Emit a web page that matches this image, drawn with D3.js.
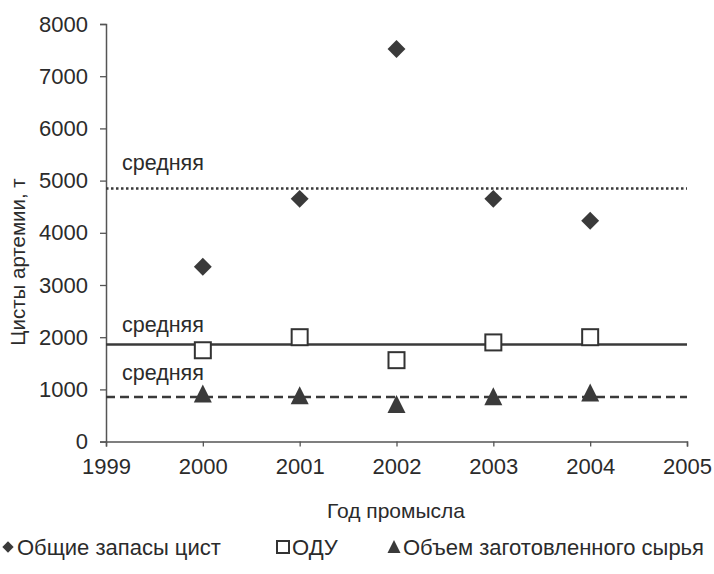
<!DOCTYPE html>
<html><head><meta charset="utf-8">
<script src="https://cdn.jsdelivr.net/npm/d3@7"></script>
<style>body{margin:0;background:#fff}svg{display:block}text{font-family:"Liberation Sans",Arial,sans-serif;fill:#2b2b2b}</style>
</head><body><svg id="c" width="714" height="574"></svg>
<script>
const years = [2000, 2001, 2002, 2003, 2004];
const stocks = [3350, 4650, 7520, 4650, 4230];   // Общие запасы цист
const tac = [1750, 2000, 1560, 1900, 2000];       // ОДУ
const harvest = [900, 870, 700, 850, 920];        // Объем заготовленного сырья
const meanValues = [4850, 1860, 855];
const meanLabel = "средняя";
const xTicks = [1999, 2000, 2001, 2002, 2003, 2004, 2005];
const yTicks = [0, 1000, 2000, 3000, 4000, 5000, 6000, 7000, 8000];
const xTitle = "Год промысла";
const yTitle = "Цисты артемии, т";
const legendNames = ["Общие запасы цист", "ОДУ", "Объем заготовленного сырья"];

const svg = d3.select("#c");
const x = d3.scaleLinear().domain([1999, 2005]).range([106, 687]);
const y = d3.scaleLinear().domain([0, 8000]).range([441.6, 24]);
const fs = 22;

// axes
const yAxis = svg.append("g").attr("transform", "translate(106,0)")
  .call(d3.axisLeft(y).tickValues(yTicks).tickSize(6).tickPadding(12).tickFormat(d3.format("d")));
yAxis.select(".domain").attr("stroke", "#555").attr("stroke-width", 1.5);
yAxis.selectAll(".tick line").attr("stroke", "#555").attr("stroke-width", 1.3);
yAxis.selectAll("text").style("font-size", fs + "px").attr("fill", "#2b2b2b");

const xAxis = svg.append("g").attr("transform", "translate(0,441.6)")
  .call(d3.axisBottom(x).tickValues(xTicks).tickSize(5).tickSizeOuter(5).tickPadding(12).tickFormat(d3.format("d")));
xAxis.select(".domain").attr("stroke", "#555").attr("stroke-width", 1.5);
xAxis.selectAll(".tick line").attr("stroke", "#555").attr("stroke-width", 1.3);
xAxis.selectAll("text").style("font-size", fs + "px").attr("fill", "#2b2b2b");

// mean lines
const dashes = ["2.5,2.5", null, "9,5"];
const labelOffsets = [18, 13, 17];
meanValues.forEach((m, i) => {
  svg.append("line").attr("x1", x(1999)).attr("x2", x(2005))
    .attr("y1", y(m)).attr("y2", y(m))
    .attr("stroke", "#3a3a3a").attr("stroke-width", 2.5)
    .attr("stroke-dasharray", dashes[i]);
  svg.append("text").attr("x", 122).attr("y", y(m) - labelOffsets[i])
    .style("font-size", "21.5px").text(meanLabel);
});

// markers
svg.append("g").selectAll("path").data(years).join("path")
  .attr("d", d3.symbol().type(d3.symbolSquare).size(160)())
  .attr("transform", (d, i) => `translate(${x(d)},${y(stocks[i])}) rotate(45)`)
  .attr("fill", "#3a3a3a");

svg.append("g").selectAll("rect").data(years).join("rect")
  .attr("x", d => x(d) - 8).attr("y", (d, i) => y(tac[i]) - 8)
  .attr("width", 16).attr("height", 16)
  .attr("fill", "#fff").attr("stroke", "#333").attr("stroke-width", 2);

svg.append("g").selectAll("path").data(years).join("path")
  .attr("transform", (d, i) => `translate(${x(d)},${y(harvest[i])})`)
  .attr("d", "M0,-10L9,8L-9,8Z")
  .attr("fill", "#3a3a3a");

// titles
svg.append("text").attr("x", 396).attr("y", 518).attr("text-anchor", "middle")
  .style("font-size", "21px").text(xTitle);
svg.append("text").attr("transform", "translate(25,262) rotate(-90)").attr("text-anchor", "middle")
  .style("font-size", "20.5px").text(yTitle);

// legend
const lg = svg.append("g").attr("transform", "translate(0,547)");
const lx = [8, 283, 394];
lg.append("path").attr("transform", `translate(${lx[0]},0) rotate(45)`)
  .attr("d", d3.symbol().type(d3.symbolSquare).size(64)()).attr("fill", "#3a3a3a");
lg.append("rect").attr("x", lx[1] - 6).attr("y", -6).attr("width", 12).attr("height", 12)
  .attr("fill", "#fff").attr("stroke", "#333").attr("stroke-width", 2);
lg.append("path").attr("transform", `translate(${lx[2]},0)`).attr("d", "M0,-7L6.5,6L-6.5,6Z").attr("fill", "#3a3a3a");
legendNames.forEach((n, i) => {
  lg.append("text").attr("x", lx[i] + 9).attr("y", 8).style("font-size", fs + "px").text(n);
});
</script></body></html>
